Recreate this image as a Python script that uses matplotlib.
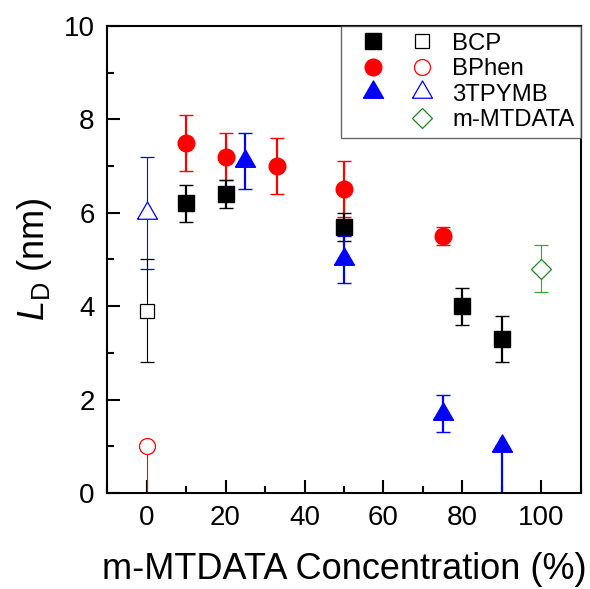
import matplotlib
matplotlib.use("Agg")
import matplotlib.pyplot as plt
from matplotlib.lines import Line2D
from matplotlib.legend_handler import HandlerTuple
from matplotlib.ticker import MultipleLocator

plt.rcParams["font.family"] = ["Liberation Sans", "DejaVu Sans"]
plt.rcParams["mathtext.fontset"] = "custom"
plt.rcParams["mathtext.rm"] = "Liberation Sans"
plt.rcParams["mathtext.it"] = "Liberation Sans:italic"

# Blends (filled symbols)
bcp_x = [10, 20, 50, 80, 90]
bcp_y = [6.2, 6.4, 5.7, 4.0, 3.3]
bcp_err = [0.4, 0.3, 0.3, 0.4, 0.5]

bphen_x = [10, 20, 33, 50, 75]
bphen_y = [7.5, 7.2, 7.0, 6.5, 5.5]
bphen_err = [0.6, 0.5, 0.6, 0.6, 0.2]

tpymb_x = [25, 50, 75, 90]
tpymb_y = [7.1, 5.0, 1.7, 1.0]
tpymb_err_lo = [0.6, 0.5, 0.4, 1.0]
tpymb_err_hi = [0.6, 0.5, 0.4, 0.0]

# Neat films (open symbols)
bcp_neat_x, bcp_neat_y = [0], [3.9]
bcp_neat_lo, bcp_neat_hi = [1.1], [1.1]
bphen_neat_x, bphen_neat_y = [0], [1.0]
bphen_neat_lo, bphen_neat_hi = [1.0], [0.0]
tpymb_neat_x, tpymb_neat_y = [0], [6.0]
tpymb_neat_lo, tpymb_neat_hi = [1.2], [1.2]
mtdata_x, mtdata_y = [100], [4.8]
mtdata_lo, mtdata_hi = [0.5], [0.5]

labels = ["BCP", "BPhen", "3TPYMB", "m-MTDATA"]

RED = "#ff0000"
BLUE = "#0000ff"
GREEN = "#1a8c1a"

# equilateral triangle centred on its centroid
tri = [(-1.0, -0.577), (1.0, -0.577), (0.0, 1.155), (-1.0, -0.577)]

fig = plt.figure(figsize=(5.9, 5.89), dpi=100)
ax = fig.add_axes([0.1814, 0.163, 0.8033, 0.7929])

fill_kw = dict(ls="none", elinewidth=1.6, capsize=5, capthick=1.6)
open_kw = dict(ls="none", elinewidth=0.8, capsize=5, capthick=0.8)

ax.errorbar(bphen_x, bphen_y, yerr=bphen_err, fmt="o", color=RED, ms=12,
            mec=RED, mew=1, **fill_kw)
ax.errorbar(bcp_x, bcp_y, yerr=bcp_err, fmt="s", color="black", ms=11.3,
            mew=1, **fill_kw)
ax.errorbar(tpymb_x, tpymb_y, yerr=[tpymb_err_lo, tpymb_err_hi], marker=tri,
            color=BLUE, ms=16.6, mew=1, **fill_kw)

ax.errorbar(tpymb_neat_x, tpymb_neat_y, yerr=[tpymb_neat_lo, tpymb_neat_hi],
            marker=tri, color=BLUE, mfc="white", mec=BLUE, ms=16.6, mew=0.9,
            **open_kw)
ax.errorbar(bcp_neat_x, bcp_neat_y, yerr=[bcp_neat_lo, bcp_neat_hi], fmt="s",
            color="black", mfc="white", mec="black", ms=10, mew=0.9, **open_kw)
ax.errorbar(bphen_neat_x, bphen_neat_y, yerr=[bphen_neat_lo, bphen_neat_hi],
            fmt="o", color=RED, mfc="white", mec=RED, ms=11.5, mew=0.9,
            **open_kw)
ax.errorbar(mtdata_x, mtdata_y, yerr=[mtdata_lo, mtdata_hi], fmt="D",
            color="#3aa03a", mfc="white", mec=GREEN, ms=10.2, mew=0.9,
            **open_kw)

ax.set_xlim(-10, 110)
ax.set_ylim(0, 10)
ax.xaxis.set_major_locator(MultipleLocator(20))
ax.xaxis.set_minor_locator(MultipleLocator(10))
ax.yaxis.set_major_locator(MultipleLocator(2))
ax.yaxis.set_minor_locator(MultipleLocator(1))
ax.tick_params(which="both", direction="in", top=False, right=False,
               width=1.5, labelsize=20, pad=9)
ax.tick_params(which="major", length=9.4)
ax.tick_params(which="minor", length=4.7)
for sp in ax.spines.values():
    sp.set_linewidth(1.5)

ax.set_xlabel("m-MTDATA Concentration (%)", fontsize=26, labelpad=15)
ax.set_ylabel(r"$L_\mathrm{D}$ (nm)", fontsize=26, labelpad=7)

# legend: filled / open symbol columns
def mk(marker, color, filled, ms, mew=1.0):
    return Line2D([], [], ls="none", marker=marker, color=color, ms=ms,
                  mfc=color if filled else "white", mec=color, mew=mew)

blank = Line2D([], [], ls="none", marker=None)
handles = [
    (mk("s", "black", True, 11.3), mk("s", "black", False, 10, 0.9)),
    (mk("o", RED, True, 12), mk("o", RED, False, 11.5, 0.9)),
    (mk(tri, BLUE, True, 16.6), mk(tri, BLUE, False, 16.6, 0.9)),
    (blank, mk("D", GREEN, False, 10.2, 0.9)),
]
leg = ax.legend(handles, labels, loc="upper right", borderaxespad=0,
                fontsize=17.2, handler_map={tuple: HandlerTuple(ndivide=None, pad=0)},
                handlelength=4.1, handletextpad=0.25, labelspacing=0.15,
                borderpad=0.28, fancybox=False, frameon=True)
leg.get_frame().set_edgecolor("#404040")
leg.get_frame().set_linewidth(1.0)

fig.savefig("out.png", dpi=100)
